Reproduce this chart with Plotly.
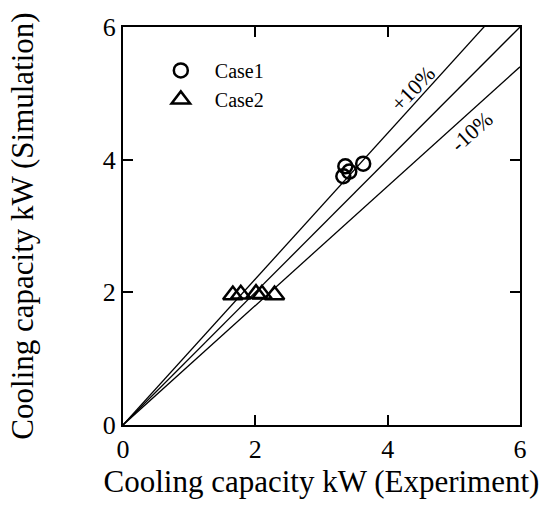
import plotly.graph_objects as go

case1_x = [3.33, 3.36, 3.42, 3.63]
case1_y = [3.75, 3.90, 3.82, 3.94]
case2_x = [1.66, 1.78, 2.01, 2.10, 2.29]
case2_y = [1.96, 1.97, 1.98, 1.97, 1.96]
ref_x = [0, 6]
ratios = [1.0, 1.1, 0.9]
ticks = [0, 2, 4, 6]

FONT = "Liberation Serif"
fig = go.Figure()
for r in ratios:
    fig.add_trace(go.Scatter(x=ref_x, y=[v * r for v in ref_x], mode="lines",
                             line=dict(color="black", width=1.3), showlegend=False,
                             hoverinfo="skip"))
fig.add_trace(go.Scatter(x=case1_x, y=case1_y, mode="markers", name="Case1",
                         marker=dict(symbol="circle-open", size=14, color="black",
                                     line=dict(width=2.5, color="black"))))
fig.add_trace(go.Scatter(x=case2_x, y=case2_y, mode="markers", name="Case2",
                         marker=dict(symbol="triangle-up-open", size=17, color="black",
                                     line=dict(width=2.5, color="black"))))

fig.add_annotation(x=4.38, y=5.08, text="+10%", showarrow=False, textangle=-46,
                   font=dict(family=FONT, size=22, color="black"))
fig.add_annotation(x=5.27, y=4.42, text="-10%", showarrow=False, textangle=-42,
                   font=dict(family=FONT, size=22, color="black"))

axis_common = dict(range=[0, 6], tickvals=ticks, ticks="inside", ticklen=10,
                   tickwidth=1.5, tickcolor="black", showline=True, linecolor="black",
                   linewidth=2, mirror="ticks", showgrid=False, zeroline=False,
                   tickfont=dict(family=FONT, size=26, color="black"))
fig.update_xaxes(**axis_common, title=dict(text="Cooling capacity kW (Experiment)",
                 font=dict(family=FONT, size=31, color="black"), standoff=4))
fig.update_yaxes(**axis_common, title=dict(text="Cooling capacity kW (Simulation)",
                 font=dict(family=FONT, size=31, color="black"), standoff=60))

fig.update_layout(width=542, height=506, margin=dict(l=123, r=22, t=27, b=81),
                  plot_bgcolor="white", paper_bgcolor="white",
                  legend=dict(x=0.06, y=0.94, xanchor="left", yanchor="top",
                              bgcolor="rgba(0,0,0,0)", itemwidth=58,
                              font=dict(family=FONT, size=20, color="black"),
                              tracegroupgap=0))
fig.write_html("out.html")
